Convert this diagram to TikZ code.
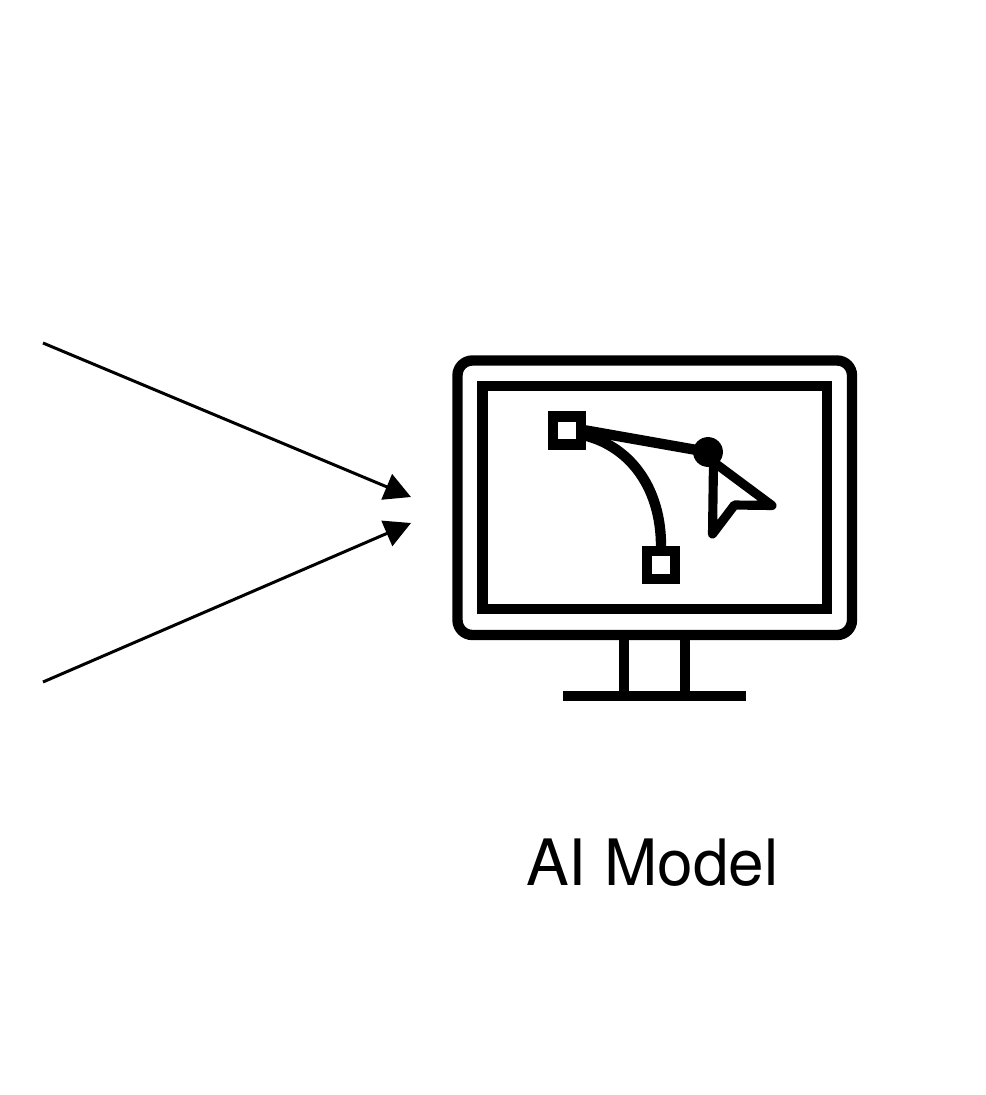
\documentclass[tikz,border=0pt]{standalone}
\usepackage{fontspec}
\setmainfont{TeX Gyre Heros}
\usepackage{tikz}
\usetikzlibrary{arrows.meta}
\tikzset{
  iconLine/.style={line width=5.9pt},
  handleBox/.style={draw,iconLine,fill=white,minimum size=15.9pt,inner sep=0pt},
  inputArrow/.style={line width=1.7pt,-{Triangle[length=15pt,width=15.5pt]}}
}

\begin{document}
\begin{tikzpicture}[x=0.02cm,y=-0.02cm]

      \useasboundingbox (0,0) rectangle (985,1095);

      % draw the input arrows
      \foreach \startY/\tipY [count=\ni] in {343/497,682/523}
      {
        \coordinate (inStart\ni) at (43,\startY);
        \coordinate (inTip\ni) at (411,\tipY);
        \draw [inputArrow] (inStart\ni) -- (inTip\ni);
      }

      % draw the monitor
      \draw [iconLine,rounded corners=8.5pt] (457.5,360.5) rectangle (852,635);
      \draw [iconLine] (482.5,386) rectangle (827,609);
      \foreach \x in {624,685}
      \draw [iconLine] (\x,640) -- (\x,696);
      \draw [iconLine] (563,696) -- (746,696);

      % draw the bezier handles
      \node [handleBox] (handleA) at (567,430.5) {};
      \node [handleBox] (handleB) at (661,565) {};
      \node [circle,fill=black,minimum size=17pt,inner sep=0pt] (knob) at (708,452) {};
      \draw [iconLine,shorten <=-2pt] (handleA.east) -- (knob.center);
      \draw [iconLine] ([yshift=-3pt]handleA.east) .. controls (632,448) and (661,490) .. (handleB.north);

      % draw the cursor
      \draw [line width=5.2pt,line join=round] (713.5,462) -- (772,505.5) -- (734.5,505) -- (712.5,534) -- cycle;

      % label of the monitor
      \node [anchor=base,font=\fontsize{36.4}{36.4}\selectfont] (modelLabel) at (652.5,885) {AI Model};

\end{tikzpicture}
\end{document}
